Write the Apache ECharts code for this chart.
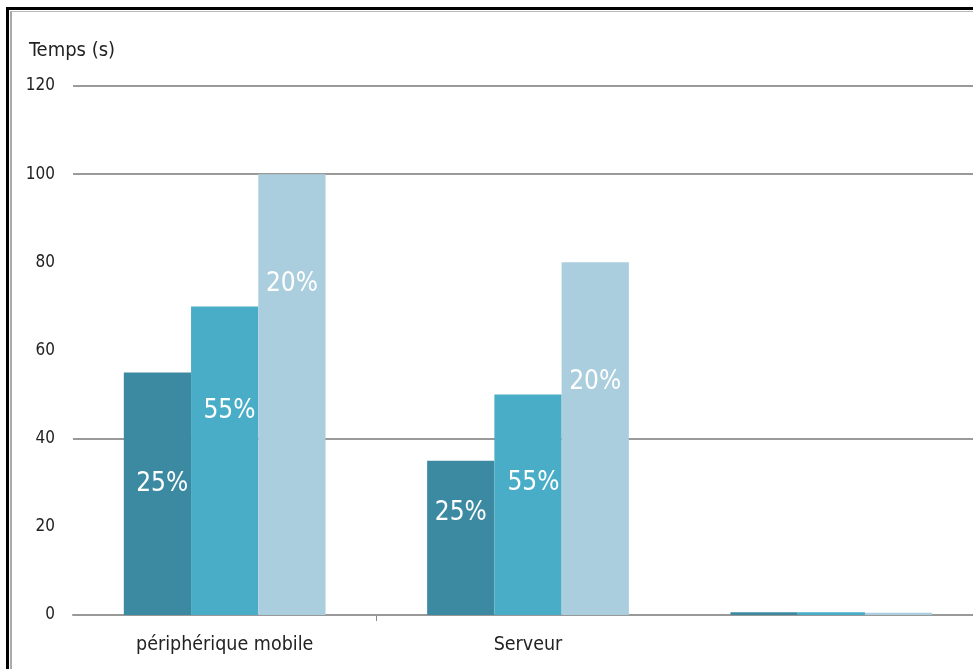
<!DOCTYPE html>
<html>
<head>
<meta charset="utf-8">
<script src="https://cdn.jsdelivr.net/npm/echarts@6/dist/echarts.min.js"></script>
<style>
html,body{margin:0;padding:0;background:#fff;overflow:hidden;}
#chart{position:absolute;left:0;top:0;width:973px;height:669px;}
#frameOuter{position:absolute;left:6px;top:7px;width:1000px;height:700px;border-left:3px solid #000;border-top:3px solid #000;pointer-events:none;}
#frameInner{position:absolute;left:10px;top:11px;width:1000px;height:700px;border-left:2px solid #aaa;border-top:1px solid #bbb;pointer-events:none;}
</style>
</head>
<body>
<div id="chart"></div>
<div id="frameOuter"></div>
<div id="frameInner"></div>
<script>
const categories = ['périphérique mobile', 'Serveur', ''];
const series1 = [55, 35, 0.6];
const series2 = [70, 50, 0.6];
const series3 = [100, 80, 0.5];
const labels1 = ['25%', '25%', ''];
const labels2 = ['55%', '55%', ''];
const labels3 = ['20%', '20%', ''];
const yTicks = [0, 20, 40, 60, 80, 100, 120];
const gridShown = [0, 40, 100, 120];

const colors = ['#3C8AA1', '#4AADC7', '#AACEDD'];
const labelPos = [
  [['57%', '46%'], ['50%', '34%']],
  [['57%', '34%'], ['58%', '40%']],
  [['50%', '25%'], ['50%', '34%']]
];
const FONT = "'DejaVu Sans Condensed', 'Liberation Sans Narrow', 'DejaVu Sans', sans-serif";

function makeData(vals, labs, si) {
  return vals.map((v, i) => ({
    value: v,
    label: {
      show: labs[i] !== '',
      formatter: labs[i],
      position: labelPos[si][i] || ['50%', '40%']
    }
  }));
}

const chart = echarts.init(document.getElementById('chart'), null, {renderer: 'canvas'});
const seriesVals = [series1, series2, series3];
const seriesLabs = [labels1, labels2, labels3];

chart.setOption({
  animation: false,
  backgroundColor: '#fff',
  title: {
    text: 'Temps (s)',
    left: 24,
    top: 36,
    textStyle: {fontFamily: FONT, fontSize: 20, fontWeight: 'normal', color: '#222'}
  },
  grid: {left: 73, top: 86, width: 910, height: 529, containLabel: false, outerBoundsMode: 'none'},
  xAxis: {
    type: 'category',
    data: categories,
    axisLine: {show: true, lineStyle: {color: '#999', width: 2}},
    axisTick: {show: false},
    axisLabel: {margin: 20, fontFamily: FONT, fontSize: 19.5, color: '#222'},
    splitLine: {show: false}
  },
  yAxis: {
    type: 'value',
    min: yTicks[0],
    max: yTicks[yTicks.length - 1],
    interval: yTicks[1] - yTicks[0],
    axisLine: {show: false},
    axisTick: {show: false},
    axisLabel: {margin: 18, fontFamily: FONT, fontSize: 17, color: '#222'},
    splitLine: {
      show: true,
      lineStyle: {
        width: 2,
        color: yTicks.map(t => gridShown.indexOf(t) >= 0 ? '#9a9a9a' : 'rgba(0,0,0,0)')
      }
    }
  },
  series: seriesVals.map((vals, si) => ({
    type: 'bar',
    data: makeData(vals, seriesLabs[si], si),
    barGap: '0%',
    barCategoryGap: '33.5%',
    itemStyle: {color: colors[si]},
    label: {
      show: true,
      color: '#fff',
      fontFamily: FONT,
      fontSize: 26,
      align: 'center',
      verticalAlign: 'middle'
    }
  }))
});

// single tick mark between the first two categories, placed through the axis scale
const p0 = chart.convertToPixel({xAxisIndex: 0, yAxisIndex: 0}, [0, 0]);
const p1 = chart.convertToPixel({xAxisIndex: 0, yAxisIndex: 0}, [1, 0]);
const tx = Math.round((p0[0] + p1[0]) / 2) + 0.5;
chart.setOption({
  graphic: [{
    type: 'line',
    shape: {x1: tx, y1: p0[1] + 1, x2: tx, y2: p0[1] + 6},
    style: {stroke: '#888', lineWidth: 1},
    silent: true
  }]
});
</script>
</body>
</html>
